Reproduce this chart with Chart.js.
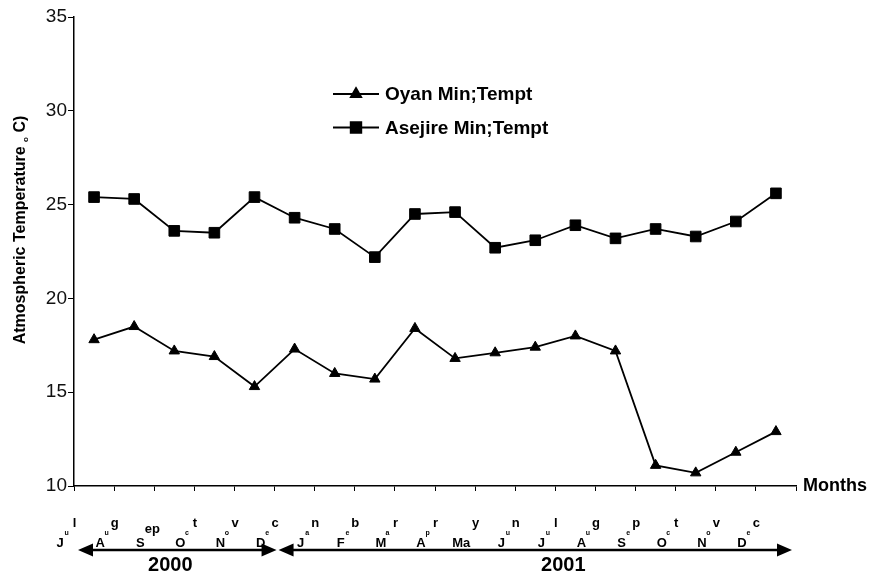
<!DOCTYPE html>
<html>
<head>
<meta charset="utf-8">
<script src="https://cdn.jsdelivr.net/npm/chart.js@4"></script>
<style>
  body { margin: 0; background: #fff; }
  canvas { display: block; }
</style>
</head>
<body>
<canvas id="tempChart" width="871" height="574"></canvas>
<script>
const months = ['Jul', 'Aug', 'Sep', 'Oct', 'Nov', 'Dec', 'Jan', 'Feb', 'Mar', 'Apr', 'May', 'Jun', 'Jul', 'Aug', 'Sep', 'Oct', 'Nov', 'Dec'];
// the month names come out broken over three levels in the original
const monthBase = ['J', 'A', 'S', 'O', 'N', 'D', 'J', 'F', 'M', 'A', 'Ma', 'J', 'J', 'A', 'S', 'O', 'N', 'D'];
const monthSmall = ['u', 'u', 'ep', 'c', 'o', 'e', 'a', 'e', 'a', 'p', '', 'u', 'u', 'u', 'e', 'c', 'o', 'e'];
const monthTop = ['l', 'g', '', 't', 'v', 'c', 'n', 'b', 'r', 'r', 'y', 'n', 'l', 'g', 'p', 't', 'v', 'c'];

const oyanMin = [17.8, 18.5, 17.2, 16.9, 15.3, 17.3, 16.0, 15.7, 18.4, 16.8, 17.1, 17.4, 18.0, 17.2, 11.1, 10.7, 11.8, 12.9];
const asejireMin = [25.4, 25.3, 23.6, 23.5, 25.4, 24.3, 23.7, 22.2, 24.5, 24.6, 22.7, 23.1, 23.9, 23.2, 23.7, 23.3, 24.1, 25.6];

const yearLabels = ['2000', '2001'];
const yearFirstMonth = [0, 6];
const yearLastMonth = [5, 17];
const yTicks = [10, 15, 20, 25, 30, 35];

const FONT = '"Liberation Sans", Arial, sans-serif';

const extrasPlugin = {
    id: 'extras',
    afterDraw(chart) {
        const ctx = chart.ctx;
        const x = chart.scales.x;
        const area = chart.chartArea;
        const step = x.getPixelForValue(1) - x.getPixelForValue(0);
        ctx.save();
        ctx.fillStyle = '#000';
        ctx.strokeStyle = '#000';
        ctx.textBaseline = 'alphabetic';
        ctx.textAlign = 'center';

        // month labels (sit about one slot left of their points, as in the source)
        months.forEach((m, i) => {
            const c = x.getPixelForValue(i);
            ctx.font = 'bold 13px ' + FONT;
            ctx.fillText(monthBase[i], c - 34, 547);
            const s = monthSmall[i];
            if (s.length > 1) {
                ctx.fillText(s, c - 22, 533);
            } else if (s) {
                ctx.font = 'bold 7px ' + FONT;
                ctx.fillText(s, c - 27.5, 535);
            }
            ctx.font = 'bold 13px ' + FONT;
            ctx.fillText(monthTop[i], c - 19.5, 527);
        });

        // year arrows
        const ay = 550;
        const shift = [-7, 28];
        yearLabels.forEach((yr, k) => {
            const left = Math.max(area.left + 4, x.getPixelForValue(yearFirstMonth[k]) - 1.5 * step + 4);
            const right = k === yearLabels.length - 1
                ? area.right - 4
                : x.getPixelForValue(yearLastMonth[k]) - step / 2 + 2;
            ctx.lineWidth = 2.5;
            ctx.beginPath();
            ctx.moveTo(left + 10, ay);
            ctx.lineTo(right - 10, ay);
            ctx.stroke();
            ctx.beginPath();
            ctx.moveTo(left, ay);
            ctx.lineTo(left + 15, ay - 6.5);
            ctx.lineTo(left + 15, ay + 6.5);
            ctx.closePath();
            ctx.fill();
            ctx.beginPath();
            ctx.moveTo(right, ay);
            ctx.lineTo(right - 15, ay - 6.5);
            ctx.lineTo(right - 15, ay + 6.5);
            ctx.closePath();
            ctx.fill();
            ctx.font = 'bold 20px ' + FONT;
            ctx.fillText(yr, (left + right) / 2 + shift[k], 571);
        });

        // x axis name
        ctx.textAlign = 'left';
        ctx.textBaseline = 'middle';
        ctx.font = 'bold 18px ' + FONT;
        ctx.fillText('Months', 803, 486);

        // legend
        chart.data.datasets.forEach((ds, i) => {
            const ly = 94 + 33.5 * i;
            ctx.lineWidth = 1.8;
            ctx.beginPath();
            ctx.moveTo(333, ly);
            ctx.lineTo(379, ly);
            ctx.stroke();
            Chart.helpers.drawPoint(ctx, {
                pointStyle: ds.pointStyle,
                radius: ds.pointRadius,
                borderWidth: 1,
                rotation: 0
            }, 356, ly);
            ctx.font = 'bold 19px ' + FONT;
            ctx.fillText(ds.label, 385, ly + 1);
        });

        // y axis title
        ctx.translate(24.5, 230);
        ctx.rotate(-Math.PI / 2);
        ctx.textBaseline = 'alphabetic';
        const main = 'Atmospheric Temperature ';
        const sub = 'o';
        const tail = ' C)';
        ctx.font = 'bold 16px ' + FONT;
        const wMain = ctx.measureText(main).width;
        const wTail = ctx.measureText(tail).width;
        ctx.font = 'bold 8px ' + FONT;
        const wSub = ctx.measureText(sub).width;
        let px = -(wMain + wSub + wTail) / 2;
        ctx.font = 'bold 16px ' + FONT;
        ctx.fillText(main, px, 0);
        px += wMain;
        ctx.font = 'bold 8px ' + FONT;
        ctx.fillText(sub, px, 3);
        px += wSub;
        ctx.font = 'bold 16px ' + FONT;
        ctx.fillText(tail, px, 0);
        ctx.restore();
    }
};

const ctx = document.getElementById('tempChart').getContext('2d');
new Chart(ctx, {
    type: 'line',
    data: {
        labels: months,
        datasets: [
            {
                label: 'Oyan Min;Tempt',
                data: oyanMin,
                borderColor: '#000',
                backgroundColor: '#000',
                borderWidth: 1.8,
                pointStyle: 'triangle',
                pointRadius: 6,
                pointBorderWidth: 1,
                tension: 0
            },
            {
                label: 'Asejire Min;Tempt',
                data: asejireMin,
                borderColor: '#000',
                backgroundColor: '#000',
                borderWidth: 1.8,
                pointStyle: 'rect',
                pointRadius: 7.5,
                pointBorderWidth: 1,
                tension: 0
            }
        ]
    },
    options: {
        responsive: false,
        animation: false,
        devicePixelRatio: 1,
        layout: { padding: { top: 17, right: 75, left: 0, bottom: 0 } },
        plugins: {
            legend: { display: false },
            tooltip: { enabled: false }
        },
        scales: {
            x: {
                offset: true,
                grid: { offset: true, drawOnChartArea: false, tickLength: 5, color: '#000' },
                border: { color: '#000', width: 1.5 },
                ticks: { display: false },
                afterFit(scale) { scale.height = 88; }
            },
            y: {
                min: yTicks[0],
                max: yTicks[yTicks.length - 1],
                ticks: {
                    stepSize: 5,
                    padding: 1,
                    color: '#111',
                    font: { family: FONT, size: 19 }
                },
                grid: { drawOnChartArea: false, tickLength: 6, color: '#000' },
                border: { color: '#000', width: 1.5 },
                afterFit(scale) { scale.width = 74; }
            }
        }
    },
    plugins: [extrasPlugin]
});
</script>
</body>
</html>
